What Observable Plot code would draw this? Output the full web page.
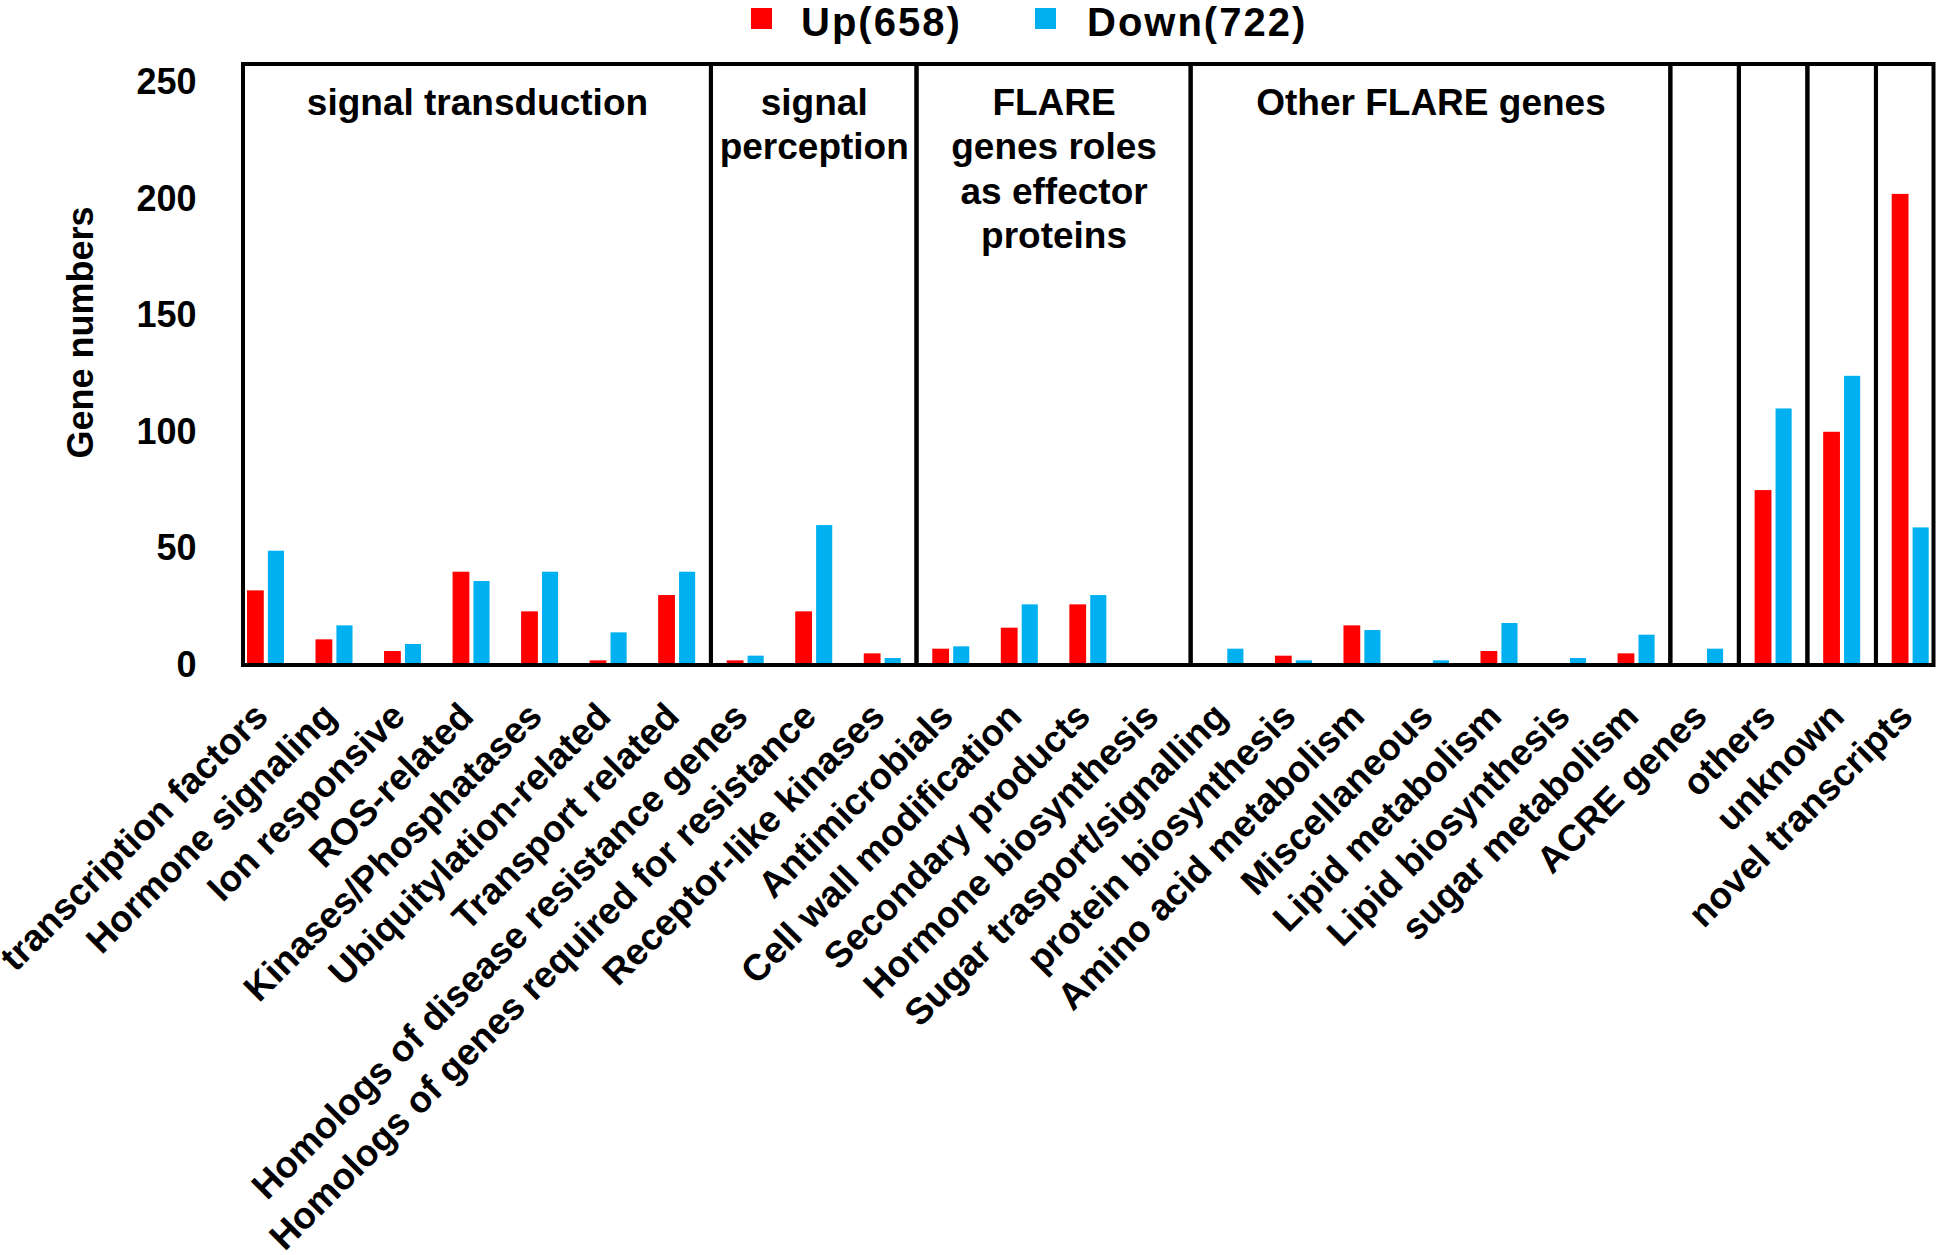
<!DOCTYPE html>
<html>
<head>
<meta charset="utf-8">
<script src="https://cdn.jsdelivr.net/npm/d3@7"></script>
<script src="https://cdn.jsdelivr.net/npm/@observablehq/plot@0.6"></script>
<style>
  html, body { margin: 0; padding: 0; background: #fff; color: #000; }
  #wrap { position: relative; width: 1944px; height: 1255px; font-family: "Liberation Sans", Arial, sans-serif; }
  #legend { position: absolute; left: 0; top: 0; width: 1944px; height: 50px; z-index: 2; }
  .sw { position: absolute; top: 8px; width: 21px; height: 21px; }
  .lt { position: absolute; top: 0; font-size: 40px; line-height: 45px; font-weight: bold; letter-spacing: 2px; white-space: nowrap; }
  #chart svg { font-family: "Liberation Sans", Arial, sans-serif; }
</style>
</head>
<body>
<div id="wrap">
  <div id="legend"></div>
  <div id="chart"></div>
</div>
<script>
// ---- data ----
const categories = [
  "transcription factors", "Hormone signaling", "Ion responsive", "ROS-related",
  "Kinases/Phosphatases", "Ubiquitylation-related", "Transport related",
  "Homologs of disease resistance genes", "Homologs of genes required for resistance",
  "Receptor-like kinases", "Antimicrobials", "Cell wall modification",
  "Secondary products", "Hormone biosynthesis", "Sugar trasport/signalling",
  "protein biosynthesis", "Amino acid metabolism", "Miscellaneous",
  "Lipid metabolism", "Lipid biosynthesis", "sugar metabolism", "ACRE genes",
  "others", "unknown", "novel transcripts"
];
const upValues   = [32, 11, 6, 40, 23, 2, 30, 2, 23, 5, 7, 16, 26, 0, 0, 4, 17, 0, 6, 0, 5, 0, 75, 100, 202];
const downValues = [49, 17, 9, 36, 40, 14, 40, 4, 60, 3, 8, 26, 30, 0, 7, 2, 15, 2, 18, 3, 13, 7, 110, 124, 59];
const seriesNames = ["Up(658)", "Down(722)"];
const groupTitles = ["signal transduction", "signal\nperception", "FLARE\ngenes roles\nas effector\nproteins", "Other FLARE genes", "", "", "", ""];
const groupFirst  = [0, 7, 10, 14, 21, 22, 23, 24];
const groupLast   = [6, 9, 13, 20, 21, 22, 23, 24];
const yTicks = [0, 50, 100, 150, 200, 250];
const yLabel = "Gene numbers";

// ---- styles ----
const colors = ["#FF0000", "#00B0F0"];
const xDomain = [-0.328, 24.34];
const yMax = 257.7;

// ---- build tables ----
const bars = [];
categories.forEach((c, i) => {
  bars.push({cat: c, i, series: seriesNames[0], value: upValues[i], x1: i - 0.27, x2: i - 0.025});
  bars.push({cat: c, i, series: seriesNames[1], value: downValues[i], x1: i + 0.035, x2: i + 0.27});
});
const groups = groupTitles.map((t, k) => ({
  title: t,
  x1: k === 0 ? xDomain[0] : groupFirst[k] - 0.5,
  x2: k === groupTitles.length - 1 ? xDomain[1] : groupLast[k] + 0.5
}));
const labels = categories.map((c, i) => ({name: c, i}));

const chart = Plot.plot({
  width: 1944,
  height: 1255,
  marginTop: 64,
  marginBottom: 590,
  marginLeft: 243,
  marginRight: 10.5,
  style: {fontFamily: '"Liberation Sans", Arial, sans-serif', color: "#000", background: "#fff"},
  x: {type: "linear", domain: xDomain, axis: null},
  y: {domain: [0, yMax], axis: null},
  color: {domain: seriesNames, range: colors},
  marks: [
    Plot.rectY(bars, {x1: "x1", x2: "x2", y: "value", fill: "series"}),
    Plot.rect(groups, {x1: "x1", x2: "x2", y1: () => 0, y2: () => yMax, fill: "none", stroke: "#000", strokeWidth: 4}),
    Plot.axisY(yTicks, {tickSize: 0, tickPadding: 47, fontSize: 36, fontWeight: "bold", label: null}),
    Plot.text([yLabel], {frameAnchor: "left", textAnchor: "middle", lineAnchor: "middle", dx: -162, dy: -32.5, rotate: -90, fontSize: 36, fontWeight: "bold"}),
    Plot.text(labels, {x: "i", y: () => 0, text: "name", rotate: -45, textAnchor: "end", lineAnchor: "bottom", dx: 4, dy: 53, fontSize: 37, fontWeight: "bold"}),
    Plot.text(groups, {x: d => (d.x1 + d.x2) / 2, frameAnchor: "top", text: "title", textAnchor: "middle", lineAnchor: "top", dy: 19, fontSize: 37, fontWeight: "bold", lineHeight: 1.2})
  ]
});
document.getElementById("chart").appendChild(chart);

// ---- legend ----
const legend = document.getElementById("legend");
const legendPos = [{sq: 751, tx: 801}, {sq: 1035, tx: 1087}];
seriesNames.forEach((name, k) => {
  const sw = document.createElement("div");
  sw.className = "sw";
  sw.style.left = legendPos[k].sq + "px";
  sw.style.background = colors[k];
  legend.appendChild(sw);
  const t = document.createElement("div");
  t.className = "lt";
  t.style.left = legendPos[k].tx + "px";
  t.textContent = name;
  legend.appendChild(t);
});
</script>
</body>
</html>
